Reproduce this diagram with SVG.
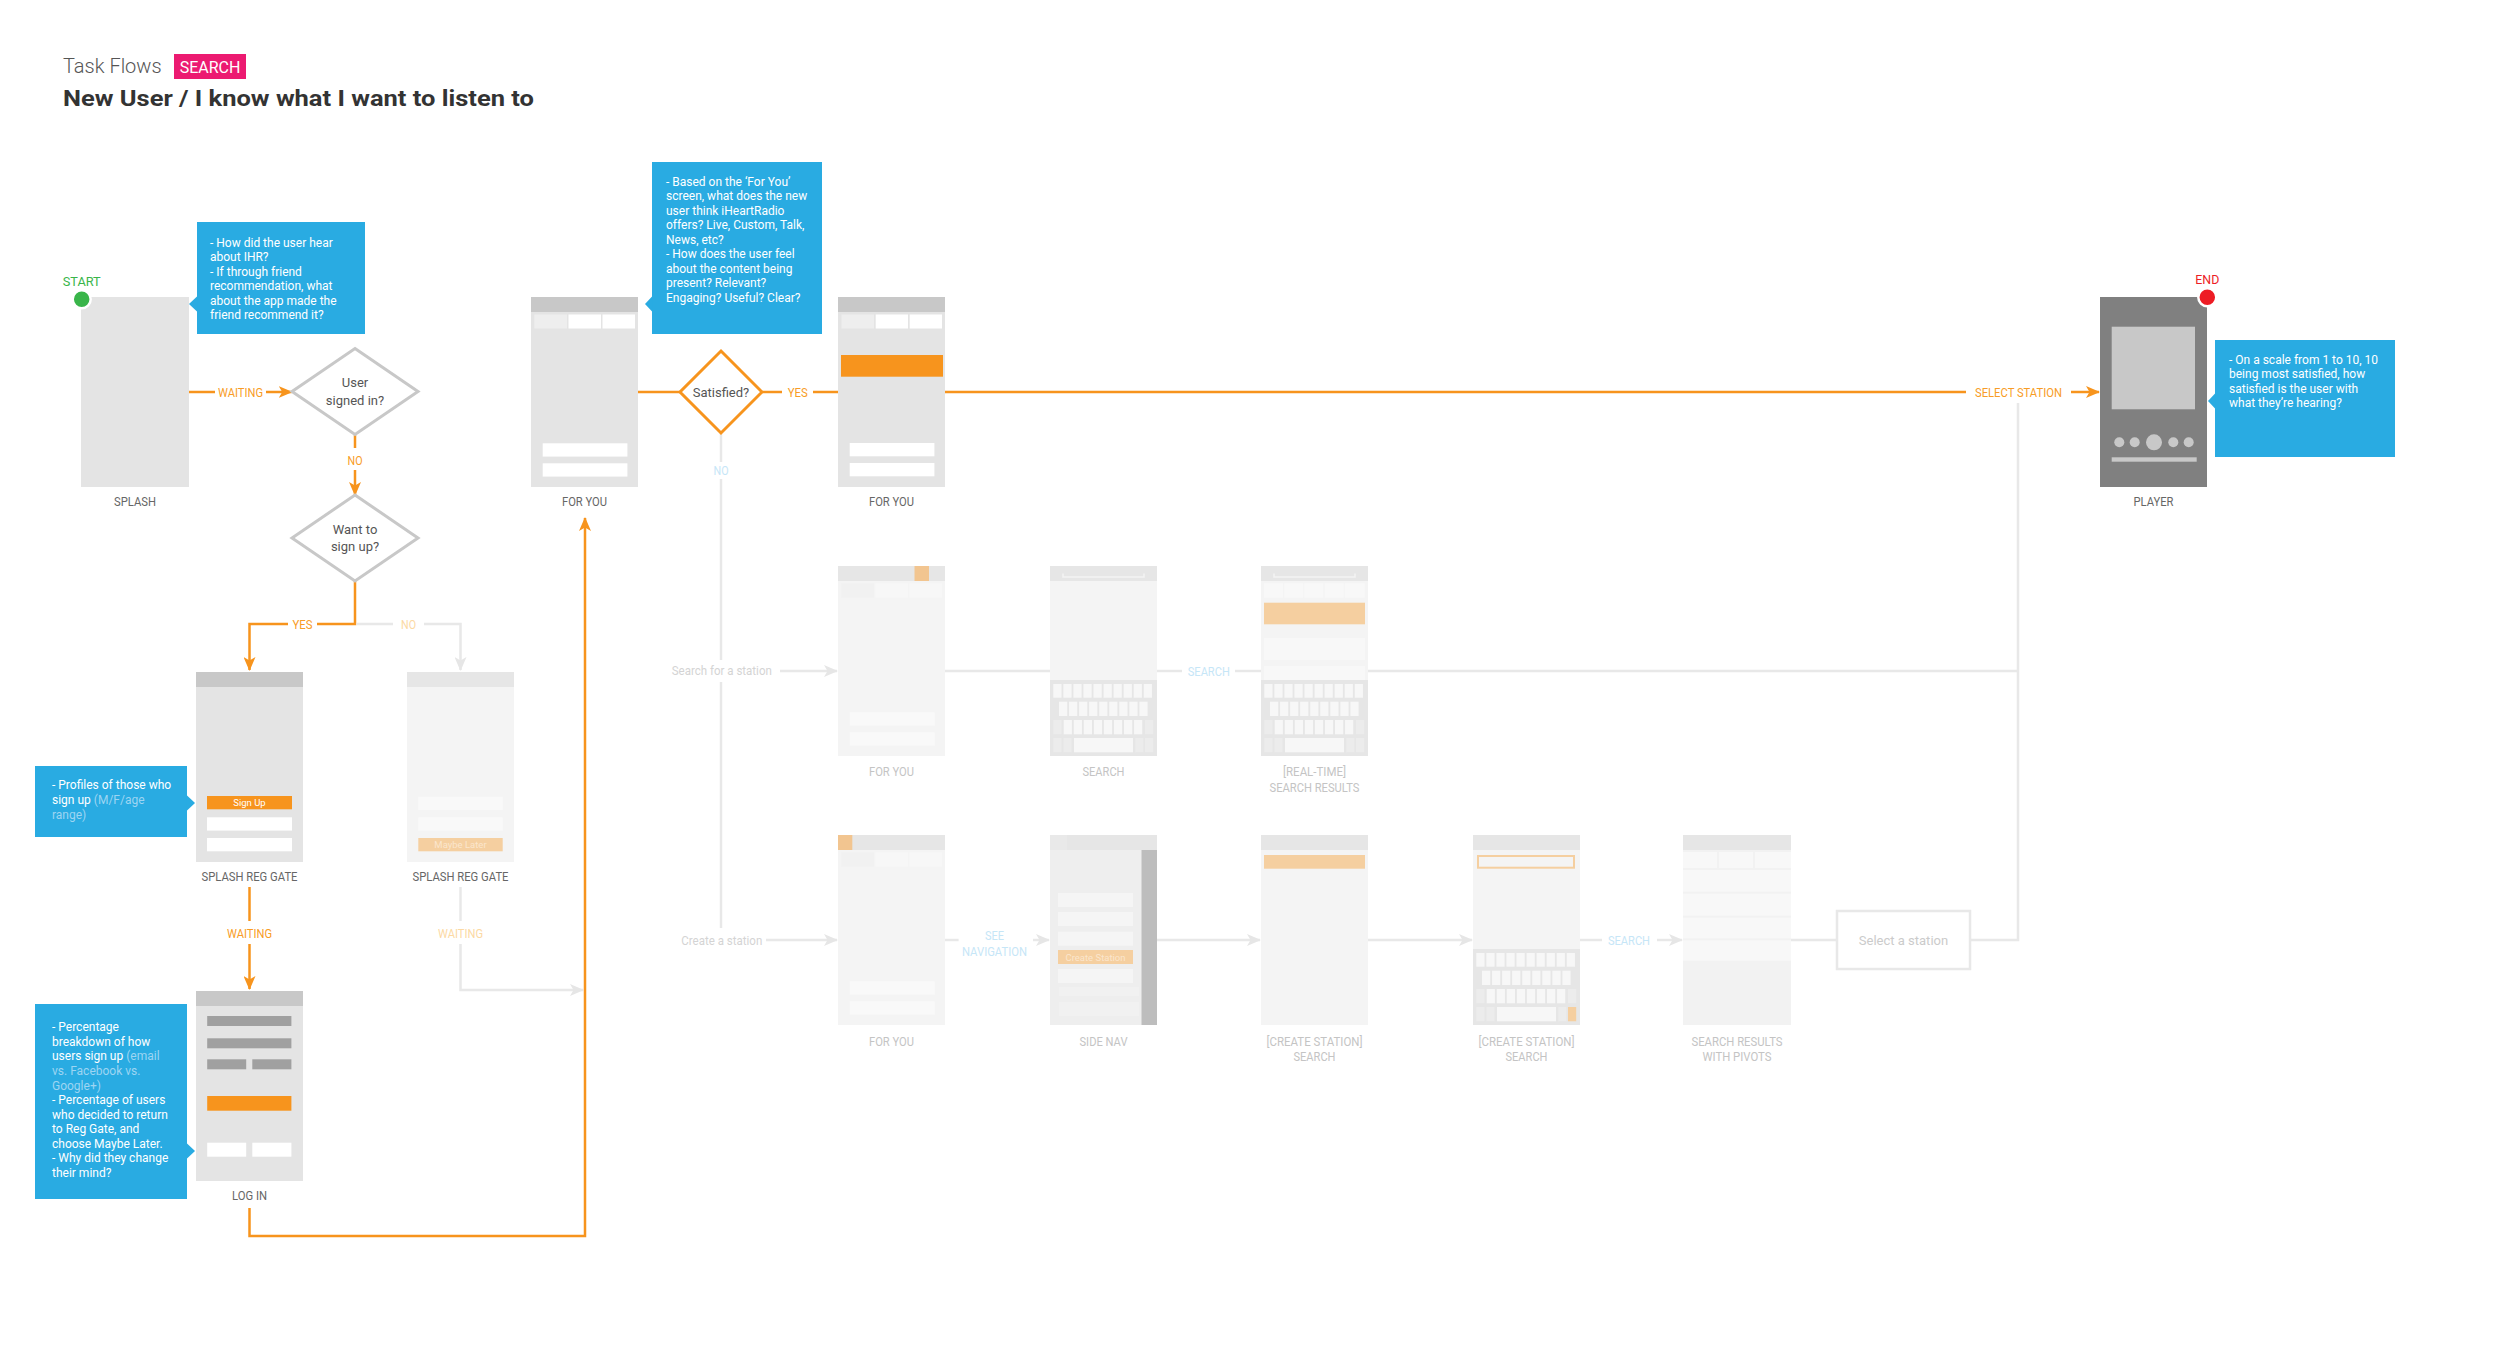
<svg xmlns="http://www.w3.org/2000/svg" xmlns:xlink="http://www.w3.org/1999/xlink" width="2500" height="1365" viewBox="0 0 2500 1365">
<style>
.o{fill:none;stroke:#f7941d;stroke-width:2.5}
.g{fill:none;stroke:#e8e8e8;stroke-width:2.5}
.lb{font-family:Roboto,'Liberation Sans',sans-serif;font-size:13px;text-anchor:middle}
.dk{fill:#666}
.lt{fill:#c4c4c4}
.ol{fill:#f89c26}
.fo{fill:#fcd9a3}
.bl{fill:#c6e6f7}
.gt{fill:#d4d4d4}
.co{fill:#29abe2}
.ct{font-family:Roboto,'Liberation Sans',sans-serif;font-size:12px;fill:#fff}
.cl{fill:#9dd5f2}
.s{fill:#e4e4e4}
.h{fill:#c8c8c8}
.fs{fill:#f4f4f4}
.fh{fill:#e6e6e6}
.w{fill:#fff}
.fw{fill:#f9f9f9}
.or{fill:#f7941d}
.fo2{fill:#f5cfa0}
.dtx{font-family:Roboto,'Liberation Sans',sans-serif;font-size:13px;fill:#555;text-anchor:middle}
</style>
<defs>
<marker id="ao" viewBox="0 0 14 12" refX="13" refY="6" markerWidth="14" markerHeight="12" markerUnits="userSpaceOnUse" orient="auto"><path d="M0,0 L14,6 L0,12 L3.5,6 Z" fill="#f7941d"/></marker>
<marker id="ag" viewBox="0 0 14 12" refX="13" refY="6" markerWidth="14" markerHeight="12" markerUnits="userSpaceOnUse" orient="auto"><path d="M0,0 L14,6 L0,12 L3.5,6 Z" fill="#e6e6e6"/></marker>
<g id="kb">
<rect width="107" height="76" fill="#e6e6e6"/>
<g fill="#f7f7f7">
<rect x="3.3" y="4" width="8.2" height="13.7"/><rect x="13.35" y="4" width="8.2" height="13.7"/><rect x="23.4" y="4" width="8.2" height="13.7"/><rect x="33.45" y="4" width="8.2" height="13.7"/><rect x="43.5" y="4" width="8.2" height="13.7"/><rect x="53.55" y="4" width="8.2" height="13.7"/><rect x="63.6" y="4" width="8.2" height="13.7"/><rect x="73.65" y="4" width="8.2" height="13.7"/><rect x="83.7" y="4" width="8.2" height="13.7"/><rect x="93.75" y="4" width="8.2" height="13.7"/>
<rect x="9" y="21.7" width="8.2" height="14.3"/><rect x="19.05" y="21.7" width="8.2" height="14.3"/><rect x="29.1" y="21.7" width="8.2" height="14.3"/><rect x="39.15" y="21.7" width="8.2" height="14.3"/><rect x="49.2" y="21.7" width="8.2" height="14.3"/><rect x="59.25" y="21.7" width="8.2" height="14.3"/><rect x="69.3" y="21.7" width="8.2" height="14.3"/><rect x="79.35" y="21.7" width="8.2" height="14.3"/><rect x="89.4" y="21.7" width="8.2" height="14.3"/>
<rect x="13.7" y="40" width="8.2" height="14.3"/><rect x="23.75" y="40" width="8.2" height="14.3"/><rect x="33.8" y="40" width="8.2" height="14.3"/><rect x="43.85" y="40" width="8.2" height="14.3"/><rect x="53.9" y="40" width="8.2" height="14.3"/><rect x="63.95" y="40" width="8.2" height="14.3"/><rect x="74" y="40" width="8.2" height="14.3"/><rect x="84.05" y="40" width="8.2" height="14.3"/>
<rect x="24" y="58" width="59" height="14.3"/>
</g>
<g fill="#ececec">
<rect x="3.3" y="40" width="8.2" height="14.3"/><rect x="95" y="40" width="8.2" height="14.3"/>
<rect x="3.3" y="58" width="8.2" height="14.3"/><rect x="13.35" y="58" width="8.2" height="14.3"/><rect x="85.2" y="58" width="8.2" height="14.3"/><rect x="95" y="58" width="8.2" height="14.3"/>
</g>
</g>
</defs>
<rect width="2500" height="1365" fill="#fff"/>

<g id="title">
<text x="63" y="73" font-family="Roboto,'Liberation Sans',sans-serif" font-weight="300" font-size="20" fill="#555">Task Flows</text>
<rect x="174" y="54" width="72" height="25" fill="#ec1a71"/>
<text x="210" y="72.5" font-family="Roboto,'Liberation Sans',sans-serif" font-size="16" fill="#fff" text-anchor="middle">SEARCH</text>
<text x="63" y="106" font-family="Roboto,'Liberation Sans',sans-serif" font-weight="700" font-size="22" fill="#333" textLength="471" lengthAdjust="spacingAndGlyphs">New User / I know what I want to listen to</text>
</g>

<g id="connectors">
<path class="o" d="M189,392 H215"/>
<text class="lb ol" x="240.5" y="396.5" textLength="45" lengthAdjust="spacingAndGlyphs">WAITING</text>
<path class="o" d="M266,392 H291.7" marker-end="url(#ao)"/>
<path class="o" d="M355,434.5 V448"/>
<text class="lb ol" x="355" y="464.5" textLength="15" lengthAdjust="spacingAndGlyphs">NO</text>
<path class="o" d="M355,470 V495" marker-end="url(#ao)"/>
<path class="o" d="M355,581 V624 H317"/>
<text class="lb ol" x="302.5" y="628.5" textLength="20" lengthAdjust="spacingAndGlyphs">YES</text>
<path class="o" d="M288,624 H249.5 V670" marker-end="url(#ao)"/>
<path class="g" d="M356.5,624 H393"/>
<text class="lb fo" x="408.5" y="628.5" textLength="15" lengthAdjust="spacingAndGlyphs">NO</text>
<path class="g" d="M424,624 H460.5 V670" marker-end="url(#ag)"/>
<path class="o" d="M249.5,887 V921"/>
<text class="lb ol" x="249.5" y="937.5" textLength="45" lengthAdjust="spacingAndGlyphs">WAITING</text>
<path class="o" d="M249.5,944 V989" marker-end="url(#ao)"/>
<path class="g" d="M460.5,887 V921"/>
<text class="lb fo" x="460.5" y="937.5" textLength="45" lengthAdjust="spacingAndGlyphs">WAITING</text>
<path class="g" d="M460.5,944 V990 H583" marker-end="url(#ag)"/>
<path class="o" d="M249.5,1208 V1236 H585 V518" marker-end="url(#ao)"/>
<path class="o" d="M638,392 H680"/>
<path class="o" d="M762,392 H782"/>
<text class="lb ol" x="797.7" y="396.5" textLength="20" lengthAdjust="spacingAndGlyphs">YES</text>
<path class="o" d="M813,392 H838"/>
<path class="o" d="M945,392 H1966"/>
<text class="lb ol" x="2018.5" y="396.5" textLength="87" lengthAdjust="spacingAndGlyphs">SELECT STATION</text>
<path class="o" d="M2071,392 H2099" marker-end="url(#ao)"/>
<path class="g" d="M721,434 V462"/>
<text class="lb bl" x="721" y="474.5" textLength="15" lengthAdjust="spacingAndGlyphs">NO</text>
<path class="g" d="M721,479 V660"/>
<path class="g" d="M721,682 V928"/>
<text class="lb gt" x="721.8" y="675" textLength="100" lengthAdjust="spacingAndGlyphs">Search for a station</text>
<path class="g" d="M780,671 H837" marker-end="url(#ag)"/>
<path class="g" d="M945,671 H1050"/>
<path class="g" d="M1157,671 H1182"/>
<text class="lb bl" x="1208.8" y="675.5" textLength="42" lengthAdjust="spacingAndGlyphs">SEARCH</text>
<path class="g" d="M1235,671 H1261"/>
<path class="g" d="M1368,671 H2018"/>
<path class="g" d="M2018,403 V940 H1970"/>
<text class="lb gt" x="721.8" y="944.5" textLength="81" lengthAdjust="spacingAndGlyphs">Create a station</text>
<path class="g" d="M766,940 H837" marker-end="url(#ag)"/>
<path class="g" d="M945,940 H958.6"/>
<text class="lb bl" x="994.5" y="939.5" textLength="19" lengthAdjust="spacingAndGlyphs">SEE</text>
<text class="lb bl" x="994.5" y="956" textLength="65" lengthAdjust="spacingAndGlyphs">NAVIGATION</text>
<path class="g" d="M1033,940 H1049" marker-end="url(#ag)"/>
<path class="g" d="M1157,940 H1260" marker-end="url(#ag)"/>
<path class="g" d="M1368,940 H1472" marker-end="url(#ag)"/>
<path class="g" d="M1580,940 H1602"/>
<text class="lb bl" x="1629" y="944.5" textLength="42" lengthAdjust="spacingAndGlyphs">SEARCH</text>
<path class="g" d="M1657,940 H1682" marker-end="url(#ag)"/>
<path class="g" d="M1791,940 H1837"/>
</g>

<g id="splash">
<rect class="s" x="81" y="297" width="108" height="190"/>
<circle cx="81.7" cy="299.3" r="9" fill="#39b54a" stroke="#fff" stroke-width="2.5"/>
<text class="lb" x="81.7" y="285.5" fill="#39b54a" textLength="38" lengthAdjust="spacingAndGlyphs">START</text>
<text class="lb dk" x="135" y="506" textLength="42" lengthAdjust="spacingAndGlyphs">SPLASH</text>
</g>

<g id="callout-hear">
<rect class="co" x="197" y="222" width="168" height="112"/>
<polygon class="co" points="197.5,296 189,304 197.5,312"/>
<text class="ct"><tspan x="210" y="246.5">- How did the user hear</tspan><tspan x="210" y="261">about IHR?</tspan><tspan x="210" y="275.5">- If through friend</tspan><tspan x="210" y="290">recommendation, what</tspan><tspan x="210" y="304.5">about the app made the</tspan><tspan x="210" y="319">friend recommend it?</tspan></text>
</g>

<g id="user-signed-in">
<polygon points="355,348.5 418,391.5 355,434.5 292,391.5" fill="#fff" stroke="#c8c8c8" stroke-width="3"/>
<text class="dtx"><tspan x="355" y="387">User</tspan><tspan x="355" y="404.5">signed in?</tspan></text>
</g>

<g id="want-sign-up">
<polygon points="355,495 418,538 355,581 292,538" fill="#fff" stroke="#c8c8c8" stroke-width="3"/>
<text class="dtx"><tspan x="355" y="533.5">Want to</tspan><tspan x="355" y="551">sign up?</tspan></text>
</g>

<g id="splash-reg-gate-signup" transform="translate(196,672)">
<rect class="s" width="107" height="190"/>
<rect class="h" width="107" height="15"/>
<rect class="or" x="11" y="124" width="85" height="13.3"/>
<text x="53.5" y="134" font-family="Roboto,'Liberation Sans',sans-serif" font-size="9.5" fill="#fff" text-anchor="middle">Sign Up</text>
<rect class="w" x="11" y="145.3" width="85" height="13.3"/>
<rect class="w" x="11" y="166" width="85" height="13.3"/>
<text class="lb dk" x="53.5" y="209" textLength="96" lengthAdjust="spacingAndGlyphs">SPLASH REG GATE</text>
</g>

<g id="splash-reg-gate-later" transform="translate(407,672)">
<rect class="fs" width="107" height="190"/>
<rect class="fh" width="107" height="15"/>
<rect class="fw" x="11.3" y="124.7" width="84.4" height="13.3"/>
<rect class="fw" x="11.3" y="145.3" width="84.4" height="13.3"/>
<rect class="fo2" x="11.3" y="166" width="84.4" height="13.3"/>
<text x="53.5" y="176" font-family="Roboto,'Liberation Sans',sans-serif" font-size="9.5" fill="#fbe6cd" text-anchor="middle">Maybe Later</text>
<text class="lb dk" x="53.5" y="209" textLength="96" lengthAdjust="spacingAndGlyphs">SPLASH REG GATE</text>
</g>

<g id="callout-profiles">
<rect class="co" x="35" y="766" width="152" height="71"/>
<polygon class="co" points="186.5,795 195,803 186.5,811"/>
<text class="ct" font-size="11.5"><tspan x="52" y="789.3">- Profiles of those who</tspan><tspan x="52" y="804">sign up <tspan class="cl">(M/F/age</tspan></tspan><tspan x="52" y="818.5" class="cl">range)</tspan></text>
</g>

<g id="log-in" transform="translate(196,991)">
<rect class="s" width="107" height="190"/>
<rect class="h" width="107" height="15"/>
<g fill="#a0a0a0">
<rect x="11.2" y="25" width="84.2" height="10"/>
<rect x="11.2" y="47.3" width="84.2" height="10"/>
<rect x="11.2" y="68.3" width="39" height="10"/>
<rect x="56.3" y="68.3" width="39.1" height="10"/>
</g>
<rect class="or" x="11.2" y="105" width="84.2" height="14.7"/>
<rect class="w" x="11.2" y="151.7" width="39" height="14"/>
<rect class="w" x="56.3" y="151.7" width="39.1" height="14"/>
<text class="lb dk" x="53.5" y="209" textLength="35" lengthAdjust="spacingAndGlyphs">LOG IN</text>
</g>

<g id="callout-percentage">
<rect class="co" x="35" y="1004" width="152" height="195"/>
<polygon class="co" points="186.5,1143 195,1151 186.5,1159"/>
<text class="ct" font-size="11.5"><tspan x="52" y="1031.3">- Percentage</tspan><tspan x="52" y="1045.9">breakdown of how</tspan><tspan x="52" y="1060.4">users sign up <tspan class="cl">(email</tspan></tspan><tspan x="52" y="1075" class="cl">vs. Facebook vs.</tspan><tspan x="52" y="1089.5" class="cl">Google+)</tspan><tspan x="52" y="1104.1">- Percentage of users</tspan><tspan x="52" y="1118.6">who decided to return</tspan><tspan x="52" y="1133.2">to Reg Gate, and</tspan><tspan x="52" y="1147.7">choose Maybe Later.</tspan><tspan x="52" y="1162.3">- Why did they change</tspan><tspan x="52" y="1176.8">their mind?</tspan></text>
</g>

<g id="for-you-1" transform="translate(531,297)">
<rect class="s" width="107" height="190"/>
<rect class="h" width="107" height="15"/>
<rect x="3.3" y="17.5" width="32.7" height="14" fill="#eeeeee"/>
<rect class="w" x="37.5" y="17.5" width="32.5" height="14"/>
<rect class="w" x="71.5" y="17.5" width="32.5" height="14"/>
<rect class="w" x="11.7" y="146.3" width="84.7" height="13.3"/>
<rect class="w" x="11.7" y="166.3" width="84.7" height="13.3"/>
<text class="lb dk" x="53.5" y="209" textLength="45" lengthAdjust="spacingAndGlyphs">FOR YOU</text>
</g>

<g id="callout-for-you">
<rect class="co" x="652" y="162" width="170" height="172"/>
<polygon class="co" points="652.5,296 645,304 652.5,312"/>
<text class="ct"><tspan x="666" y="185.7">- Based on the ‘For You’</tspan><tspan x="666" y="200.2">screen, what does the new</tspan><tspan x="666" y="214.7">user think iHeartRadio</tspan><tspan x="666" y="229.2">offers? Live, Custom, Talk,</tspan><tspan x="666" y="243.7">News, etc?</tspan><tspan x="666" y="258.2">- How does the user feel</tspan><tspan x="666" y="272.7">about the content being</tspan><tspan x="666" y="287.2">present? Relevant?</tspan><tspan x="666" y="301.7">Engaging? Useful? Clear?</tspan></text>
</g>

<g id="satisfied">
<polygon points="721,351 762,392 721,433 680,392" fill="#fff" stroke="#f7941d" stroke-width="3"/>
<text class="dtx" x="721" y="396.5">Satisfied?</text>
</g>

<g id="for-you-2" transform="translate(838,297)">
<rect class="s" width="107" height="190"/>
<rect class="h" width="107" height="15"/>
<rect x="3.5" y="17.5" width="32.5" height="14" fill="#eeeeee"/>
<rect class="w" x="37.7" y="17.5" width="32.3" height="14"/>
<rect class="w" x="71.7" y="17.5" width="32.3" height="14"/>
<rect class="or" x="3" y="58" width="102" height="21.7"/>
<rect class="w" x="11.7" y="146" width="84.7" height="13.3"/>
<rect class="w" x="11.7" y="166" width="84.7" height="13.3"/>
<text class="lb dk" x="53.5" y="209" textLength="45" lengthAdjust="spacingAndGlyphs">FOR YOU</text>
</g>

<g id="player">
<rect x="2100" y="297" width="107" height="190" fill="#808080"/>
<rect x="2111.7" y="326.7" width="83.3" height="82.6" fill="#c8c8c8"/>
<g fill="#c8c8c8">
<circle cx="2119.3" cy="442.3" r="5"/><circle cx="2134.7" cy="442.3" r="5"/><circle cx="2154" cy="442.3" r="8"/><circle cx="2173.3" cy="442.3" r="5"/><circle cx="2188.7" cy="442.3" r="5"/>
<rect x="2111.7" y="457.3" width="85" height="4.4"/>
</g>
<circle cx="2207.3" cy="297.3" r="9" fill="#ed1c24" stroke="#fff" stroke-width="2.5"/>
<text class="lb" x="2207.3" y="283.5" fill="#ed1c24" textLength="24" lengthAdjust="spacingAndGlyphs">END</text>
<text class="lb dk" x="2153.5" y="506" textLength="40" lengthAdjust="spacingAndGlyphs">PLAYER</text>
</g>

<g id="callout-scale">
<rect class="co" x="2215" y="340" width="180" height="117"/>
<polygon class="co" points="2215.5,393 2208,401 2215.5,409"/>
<text class="ct"><tspan x="2229" y="363.7">- On a scale from 1 to 10, 10</tspan><tspan x="2229" y="378.2">being most satisfied, how</tspan><tspan x="2229" y="392.7">satisfied is the user with</tspan><tspan x="2229" y="407.2">what they’re hearing?</tspan></text>
</g>

<g id="for-you-search" transform="translate(838,566)">
<rect class="fs" width="107" height="190"/>
<rect class="fh" width="107" height="15"/>
<rect x="76.5" y="0" width="14.5" height="15" fill="#f2c590"/>
<rect x="3.3" y="17.3" width="32.7" height="14.4" fill="#f1f1f1"/>
<rect x="37.5" y="17.3" width="32.5" height="14.4" fill="#f7f7f7"/>
<rect x="71.5" y="17.3" width="32.5" height="14.4" fill="#f7f7f7"/>
<rect class="fw" x="11.7" y="146.3" width="85" height="13.3"/>
<rect class="fw" x="11.7" y="166.3" width="85" height="13.3"/>
<text class="lb lt" x="53.5" y="210" textLength="45" lengthAdjust="spacingAndGlyphs">FOR YOU</text>
</g>

<g id="search" transform="translate(1050,566)">
<rect class="fs" width="107" height="190"/>
<rect class="fh" width="107" height="15"/>
<path d="M13,7.5 V11 H94 V7.5" fill="none" stroke="#f4f4f4" stroke-width="1.5"/>
<use xlink:href="#kb" href="#kb" y="114"/>
<text class="lb lt" x="53.5" y="210" textLength="42" lengthAdjust="spacingAndGlyphs">SEARCH</text>
</g>

<g id="real-time-search-results" transform="translate(1261,566)">
<rect class="fs" width="107" height="190"/>
<rect class="fh" width="107" height="15"/>
<path d="M13,7.5 V11 H94 V7.5" fill="none" stroke="#f4f4f4" stroke-width="1.5"/>
<g fill="#f8f8f8">
<rect x="3" y="17.3" width="19" height="14.4"/><rect x="23.2" y="17.3" width="19" height="14.4"/><rect x="43.4" y="17.3" width="19" height="14.4"/><rect x="63.6" y="17.3" width="19" height="14.4"/><rect x="83.8" y="17.3" width="20" height="14.4"/>
<rect x="3" y="72" width="101" height="22"/>
<rect x="3" y="100" width="101" height="14"/>
</g>
<rect class="fo2" x="3" y="36.7" width="101" height="21.6"/>
<use xlink:href="#kb" href="#kb" y="114"/>
<text class="lb lt" x="53.5" y="210" textLength="63" lengthAdjust="spacingAndGlyphs">[REAL-TIME]</text>
<text class="lb lt" x="53.5" y="226" textLength="90" lengthAdjust="spacingAndGlyphs">SEARCH RESULTS</text>
</g>

<g id="for-you-create" transform="translate(838,835)">
<rect class="fs" width="107" height="190"/>
<rect class="fh" width="107" height="15"/>
<rect x="0" y="0" width="14.3" height="15" fill="#f2c590"/>
<rect x="3.3" y="17.3" width="32.7" height="14.4" fill="#f1f1f1"/>
<rect x="37.5" y="17.3" width="32.5" height="14.4" fill="#f7f7f7"/>
<rect x="71.5" y="17.3" width="32.5" height="14.4" fill="#f7f7f7"/>
<rect class="fw" x="11.7" y="146.3" width="85" height="13.3"/>
<rect class="fw" x="11.7" y="166.3" width="85" height="13.3"/>
<text class="lb lt" x="53.5" y="210.5" textLength="45" lengthAdjust="spacingAndGlyphs">FOR YOU</text>
</g>

<g id="side-nav" transform="translate(1050,835)">
<rect width="107" height="190" fill="#eeeeee"/>
<rect class="fh" width="107" height="15"/>
<rect width="17" height="15" fill="#e9e9e9"/>
<rect x="91.5" y="15" width="15.5" height="175" fill="#bdbdbd"/>
<g fill="#f5f5f5">
<rect x="8" y="58" width="75" height="14"/>
<rect x="8" y="77" width="75" height="14"/>
<rect x="8" y="96.7" width="75" height="14"/>
<rect x="8" y="134" width="75" height="14"/>
</g>
<g fill="#f1f1f1">
<rect x="9" y="152" width="80" height="9"/>
<rect x="9" y="167" width="80" height="14"/>
</g>
<rect class="fo2" x="8" y="115" width="75" height="14"/>
<text x="45.5" y="125.5" font-family="Roboto,'Liberation Sans',sans-serif" font-size="9.5" fill="#fbe6cd" text-anchor="middle">Create Station</text>
<text class="lb lt" x="53.5" y="210.5" textLength="48" lengthAdjust="spacingAndGlyphs">SIDE NAV</text>
</g>

<g id="create-station-search" transform="translate(1261,835)">
<rect class="fs" width="107" height="190"/>
<rect class="fh" width="107" height="15"/>
<rect class="fo2" x="3" y="20" width="101" height="13.7"/>
<text class="lb lt" x="53.5" y="210.5" textLength="96" lengthAdjust="spacingAndGlyphs">[CREATE STATION]</text>
<text class="lb lt" x="53.5" y="226" textLength="42" lengthAdjust="spacingAndGlyphs">SEARCH</text>
</g>

<g id="create-station-search-keyboard" transform="translate(1473,835)">
<rect class="fs" width="107" height="190"/>
<rect class="fh" width="107" height="15"/>
<rect x="5" y="21" width="96" height="11.7" fill="#f4f4f4" stroke="#f5cfa0" stroke-width="2"/>
<use xlink:href="#kb" href="#kb" y="114"/>
<rect class="fo2" x="95" y="172" width="8.2" height="14.3"/>
<text class="lb lt" x="53.5" y="210.5" textLength="96" lengthAdjust="spacingAndGlyphs">[CREATE STATION]</text>
<text class="lb lt" x="53.5" y="226" textLength="42" lengthAdjust="spacingAndGlyphs">SEARCH</text>
</g>

<g id="search-results-pivots" transform="translate(1683,835)">
<rect width="108" height="190" fill="#f2f2f2"/>
<rect class="fh" width="108" height="15"/>
<g fill="#f8f8f8">
<rect x="0" y="17" width="34" height="16"/><rect x="36" y="17" width="34" height="16"/><rect x="72" y="17" width="36" height="16"/>
<rect x="0" y="35" width="108" height="21.7"/>
<rect x="0" y="58.7" width="108" height="22"/>
<rect x="0" y="82.7" width="108" height="20.6"/>
<rect x="0" y="105.3" width="108" height="20.4"/>
</g>
<text class="lb lt" x="54" y="210.5" textLength="91" lengthAdjust="spacingAndGlyphs">SEARCH RESULTS</text>
<text class="lb lt" x="54" y="226" textLength="69" lengthAdjust="spacingAndGlyphs">WITH PIVOTS</text>
</g>

<g id="select-a-station">
<rect x="1837" y="911" width="133" height="58" fill="#fff" stroke="#e8e8e8" stroke-width="2.5"/>
<text x="1903.5" y="944.5" font-family="Roboto,'Liberation Sans',sans-serif" font-size="13" fill="#cbcbcb" text-anchor="middle">Select a station</text>
</g>
</svg>
